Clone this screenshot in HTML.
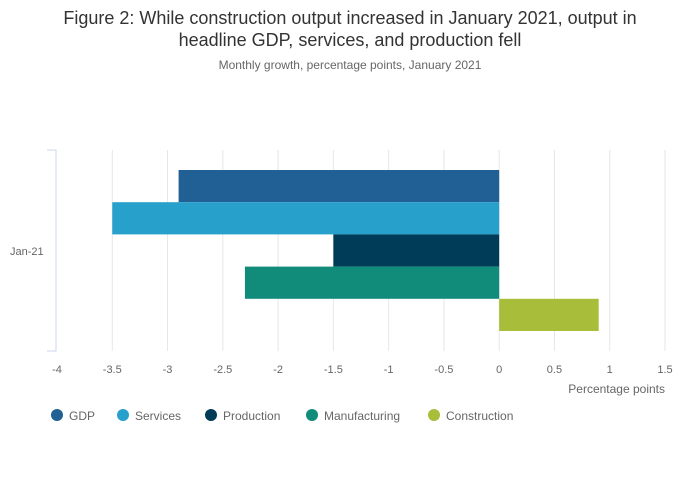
<!DOCTYPE html>
<html><head><meta charset="utf-8"><style>
body{margin:0;background:#fff;font-family:"Liberation Sans",sans-serif;}
#wrap{position:relative;width:700px;height:502px;overflow:hidden;}
</style></head><body>
<div id="wrap">
<svg id="chart" width="700" height="502" xmlns="http://www.w3.org/2000/svg">
<text x="350" y="24" text-anchor="middle" font-size="18" fill="#333">Figure 2: While construction output increased in January 2021, output in</text>
<text x="350" y="46" text-anchor="middle" font-size="18" fill="#333">headline GDP, services, and production fell</text>
<text x="350" y="69" text-anchor="middle" font-size="12" fill="#666">Monthly growth, percentage points, January 2021</text>
<g id="grid"></g>
<g id="bars"></g>
<path d="M47,150 H56 V351 H47" fill="none" stroke="#ccd6eb" stroke-width="1"/>
<text x="10" y="255" font-size="11" fill="#666">Jan-21</text>
<g id="ticks"></g>
<text x="665" y="393" text-anchor="end" font-size="12" fill="#666">Percentage points</text>
<g id="legend"></g>
</svg>
</div>
<script>
const categories = ["Jan-21"];
const seriesNames = ["GDP","Services","Production","Manufacturing","Construction"];
const seriesValues = [-2.9,-3.5,-1.5,-2.3,0.9];
const seriesColors = ["#206095","#27a0cc","#003c57","#118c7b","#a8bd3a"];
const tickValues = [-4,-3.5,-3,-2.5,-2,-1.5,-1,-0.5,0,0.5,1,1.5];
const NS="http://www.w3.org/2000/svg";
const x0=57,x1=665,vmin=-4,vmax=1.5,yTop=150,yBot=351;
function xs(v){return x0+(v-vmin)/(vmax-vmin)*(x1-x0);}
const grid=document.getElementById('grid'),bars=document.getElementById('bars'),ticks=document.getElementById('ticks'),legend=document.getElementById('legend');
tickValues.forEach(v=>{
  if(v!==vmin){
    const l=document.createElementNS(NS,'line');
    l.setAttribute('x1',xs(v));l.setAttribute('x2',xs(v));l.setAttribute('y1',yTop);l.setAttribute('y2',yBot);
    l.setAttribute('stroke','#e6e6e6');
    
    
    grid.appendChild(l);
  }
  const t=document.createElementNS(NS,'text');
  t.setAttribute('x',xs(v));t.setAttribute('y',373);t.setAttribute('text-anchor','middle');
  t.setAttribute('font-size','11');t.setAttribute('fill','#666');
  t.textContent=String(v);
  
  
  ticks.appendChild(t);
});
const n=seriesValues.length,bandTop=170,bh=(331-170)/n;
seriesValues.forEach((v,i)=>{
  const r=document.createElementNS(NS,'rect');
  const a=xs(Math.min(0,v)),b=xs(Math.max(0,v));
  r.setAttribute('x',a);r.setAttribute('width',b-a);
  r.setAttribute('y',bandTop+i*bh);r.setAttribute('height',bh);
  r.setAttribute('fill',seriesColors[i]);
  
  
  bars.appendChild(r);
});
const lx=[57,123,211,312,434];
seriesNames.forEach((s,i)=>{
  const g=document.createElementNS(NS,'g');
  
  
  const c=document.createElementNS(NS,'circle');
  c.setAttribute('cx',lx[i]);c.setAttribute('cy',415);c.setAttribute('r',6);c.setAttribute('fill',seriesColors[i]);
  const t=document.createElementNS(NS,'text');
  t.setAttribute('x',lx[i]+12);t.setAttribute('y',420);t.setAttribute('font-size','12');t.setAttribute('fill','#666');
  t.textContent=s;
  g.appendChild(c);g.appendChild(t);legend.appendChild(g);
});
</script>
</body></html>
